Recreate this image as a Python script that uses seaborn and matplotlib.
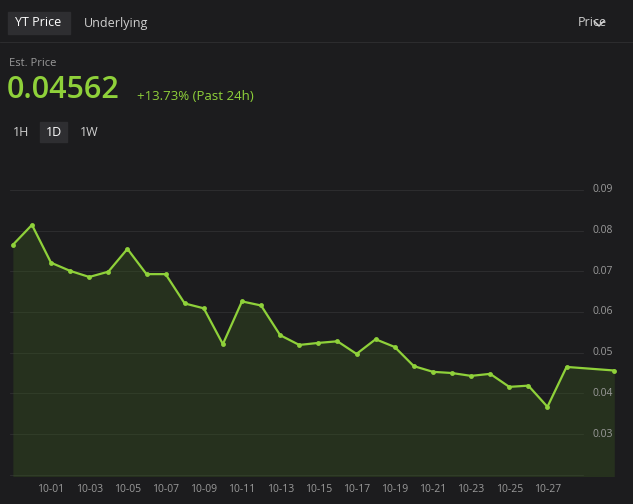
import numpy as np
import pandas as pd
import matplotlib.pyplot as plt
import seaborn as sns

# days after 10-01 (09-29 = -2), last point is the live price
days = [-2, -1, 0, 1, 2, 3, 4, 5, 6, 7, 8, 9, 10, 11, 12, 13, 14, 15, 16, 17,
        18, 19, 20, 21, 22, 23, 24, 25, 26, 27, 29.5]
price = [0.0765, 0.0814, 0.0721, 0.0701, 0.0686, 0.0699, 0.0755, 0.0693, 0.0693,
         0.0621, 0.0609, 0.0521, 0.0626, 0.0616, 0.0543, 0.0519, 0.0524, 0.0528,
         0.0497, 0.0533, 0.0514, 0.0467, 0.0453, 0.0450, 0.0443, 0.0448, 0.0416,
         0.0419, 0.0367, 0.0465, 0.04562]
tick_days = [0, 2, 4, 6, 8, 10, 12, 14, 16, 18, 20, 22, 24, 26]
tick_labels = ["10-01", "10-03", "10-05", "10-07", "10-09", "10-11", "10-13",
               "10-15", "10-17", "10-19", "10-21", "10-23", "10-25", "10-27"]
y_ticks = [0.03, 0.04, 0.05, 0.06, 0.07, 0.08, 0.09]

bg = "#1c1c1e"
green = "#8fd13a"
grey = "#9a9a9a"
df = pd.DataFrame({"day": days, "price": price})

sns.set_style("dark")
plt.rcParams["font.family"] = ["Open Sans", "DejaVu Sans"]
fig = plt.figure(figsize=(6.33, 5.04), dpi=100, facecolor=bg)
ax = fig.add_axes([10 / 633, 28 / 504, 610 / 633, 326 / 504])
ax.set_facecolor(bg)

for v in y_ticks + [0.02, 0.10]:
    ax.axhline(v, color="#2c2c2e", lw=0.8, xmax=0.94, zorder=0)
    if v in y_ticks:
        ax.text(0.955, v, f"{v:.2f}", transform=ax.get_yaxis_transform(),
                color=grey, fontsize=7.5, va="center")

ax.fill_between(df["day"], df["price"], 0, color="#3a5a1e", alpha=0.35, lw=0)
sns.lineplot(data=df, x="day", y="price", ax=ax, color=green, lw=1.6,
             marker="o", markersize=3.5, markeredgewidth=0)

ax.set_xlim(-2.15, 29.8)
ax.set_ylim(0.0197, 0.0998)
ax.set_xticks(tick_days)
ax.set_xticklabels(tick_labels)
ax.tick_params(axis="x", colors=grey, labelsize=7.5, length=0, pad=6)
ax.set_yticks([])
ax.set_xlabel("")
ax.set_ylabel("")
for s in ax.spines.values():
    s.set_visible(False)

# header UI
fig.patches.append(plt.Rectangle((8 / 633, 1 - 34 / 504), 62 / 633, 22 / 504,
                                 transform=fig.transFigure, color="#2e2e31", zorder=0))
fig.text(15 / 633, 1 - 23 / 504, "YT Price", color="white", fontsize=9, va="center")
fig.text(84 / 633, 1 - 23 / 504, "Underlying", color="#cfcfcf", fontsize=9, va="center")
fig.text(578 / 633, 1 - 23 / 504, "Price", color="#cfcfcf", fontsize=9, va="center")
# dropdown chevron
fig.add_artist(plt.Line2D([594 / 633, 599 / 633, 604 / 633],
                          [1 - 21 / 504, 1 - 26 / 504, 1 - 21 / 504],
                          color="#cfcfcf", lw=1.1))
fig.add_artist(plt.Line2D([0, 1], [1 - 42 / 504] * 2, color="#2c2c2e", lw=0.8))
fig.text(9 / 633, 1 - 64 / 504, "Est. Price", color=grey, fontsize=8, va="center")
fig.text(7 / 633, 1 - 90 / 504, "0.04562", color=green, fontsize=22,
         fontweight="semibold", va="center")
fig.text(137 / 633, 1 - 97 / 504, "+13.73% (Past 24h)", color=green, fontsize=9.5, va="center")
fig.patches.append(plt.Rectangle((40 / 633, 1 - 142 / 504), 27 / 633, 20 / 504,
                                 transform=fig.transFigure, color="#2e2e31", zorder=0))
for xp, lab, c in [(13, "1H", "#cfcfcf"), (46, "1D", "white"), (80, "1W", "#cfcfcf")]:
    fig.text(xp / 633, 1 - 132 / 504, lab, color=c, fontsize=9, va="center")

fig.savefig("out.png", dpi=100, facecolor=bg)
